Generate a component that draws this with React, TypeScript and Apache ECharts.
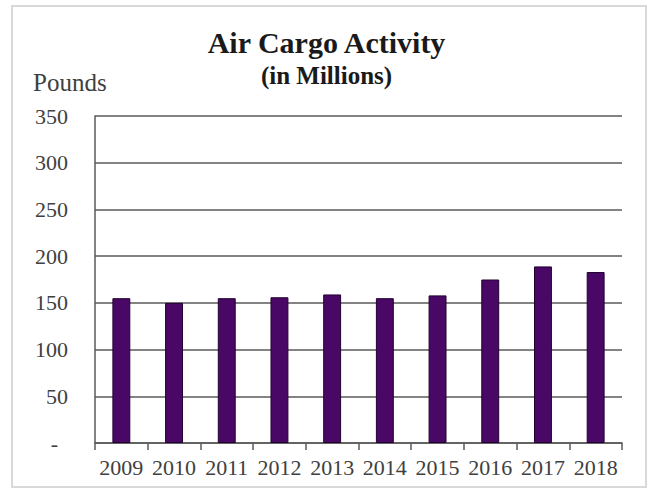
import React, { useEffect, useRef } from "react";
import * as echarts from "echarts";

const years = ["2009", "2010", "2011", "2012", "2013", "2014", "2015", "2016", "2017", "2018"];
const pounds = [155, 150, 155, 156, 159, 155, 158, 175, 189, 183];
const titleText = "Air Cargo Activity";
const subtitleText = "(in Millions)";
const unitLabel = "Pounds";

const FONT = "'Liberation Serif', 'Times New Roman', serif";
const TEXT = "#404040";
const LINE = "#5a5a5a";

export default function App() {
  const ref = useRef<HTMLDivElement>(null);
  useEffect(() => {
    if (!ref.current) return;
    const chart = echarts.init(ref.current, null, { renderer: "svg" });
    chart.setOption({
      animation: false,
      backgroundColor: "#ffffff",
      title: [
        {
          text: titleText,
          left: "center",
          top: 22,
          textStyle: { fontFamily: FONT, fontSize: 30, fontWeight: "bold", color: "#1a1a1a" },
        },
        {
          text: subtitleText,
          left: "center",
          top: 58,
          textStyle: { fontFamily: FONT, fontSize: 25, fontWeight: "bold", color: "#1a1a1a" },
        },
      ],
      graphic: [
        {
          type: "rect",
          shape: { x: 12, y: 6, width: 634, height: 481 },
          style: { fill: "none", stroke: "#d9d9d9", lineWidth: 2 },
          silent: true,
        },
        {
          type: "text",
          left: 33,
          top: 70,
          style: { text: unitLabel, fontFamily: FONT, fontSize: 25, fill: TEXT },
        },
      ],
      grid: { left: 95, right: 31, top: 116, bottom: 50, containLabel: false },
      xAxis: {
        type: "category",
        data: years,
        boundaryGap: true,
        axisLine: { show: true, lineStyle: { color: LINE, width: 1.5 } },
        axisTick: { show: true, alignWithLabel: false, interval: 0, length: 7, lineStyle: { color: LINE, width: 1.5 } },
        axisLabel: { fontFamily: FONT, fontSize: 22, color: TEXT, margin: 13, interval: 0 },
      },
      yAxis: {
        type: "value",
        min: 0,
        max: 350,
        interval: 50,
        axisLine: { show: true, lineStyle: { color: LINE, width: 1.5 } },
        axisTick: { show: false },
        splitLine: { show: true, lineStyle: { color: LINE, width: 1.5 } },
        axisLabel: {
          fontFamily: FONT,
          fontSize: 22,
          color: TEXT,
          margin: 27,
          formatter: (v: number) => (v === 0 ? "{d|-}" : String(v)),
          rich: { d: { fontFamily: FONT, fontSize: 22, color: TEXT, padding: [0, 10, 0, 0] } },
        },
      },
      series: [
        {
          type: "bar",
          data: pounds,
          barWidth: "34%",
          itemStyle: { color: "#4a0866", borderColor: "#22002f", borderWidth: 1 },
        },
      ],
    });
    return () => chart.dispose();
  }, []);
  return (
    <div
      ref={ref}
      style={{ position: "fixed", left: 0, top: 0, width: 653, height: 493 }}
    />
  );
}
